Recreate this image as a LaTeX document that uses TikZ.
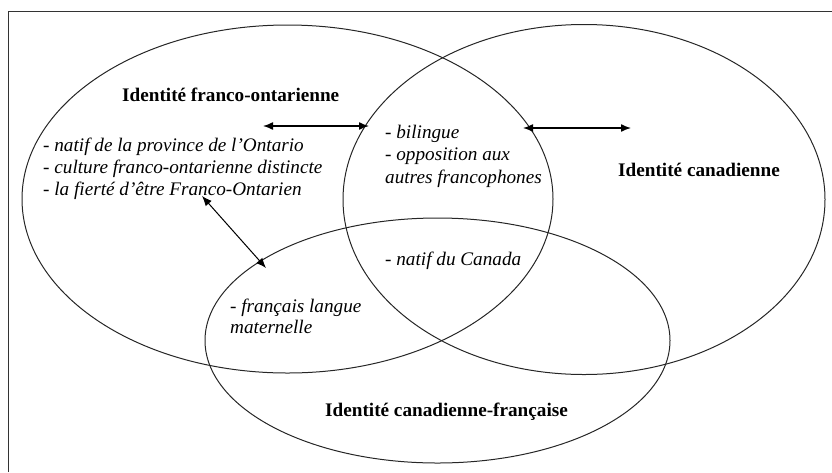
\documentclass[tikz,border=0pt]{standalone}
\usepackage{fontspec}
\setmainfont{Liberation Serif}
\usetikzlibrary{arrows.meta}
\begin{document}
\begin{tikzpicture}[x=1pt,y=-1pt,
  venn/.style={draw=black!85, line width=1pt},
  frameline/.style={draw=black!80, line width=1pt},
  title/.style={font=\fontsize{19.2}{22}\selectfont\bfseries, inner sep=0pt, anchor=base west},
  item/.style={font=\fontsize{19.2}{22}\selectfont\itshape, inner sep=0pt, anchor=base west},
  link/.style={line width=1.4pt, {Latex[length=10pt,width=8pt]}-{Latex[length=10pt,width=8pt]}},
  thinlink/.style={line width=1pt, {Latex[length=10pt,width=8pt]}-{Latex[length=10pt,width=8pt]}}
]
\useasboundingbox (0,0) rectangle (832,472);
% frame
\draw[frameline] (8,472) -- (8,11) -- (832,11);
% ellipses
\draw[venn] (287.5,199) ellipse [x radius=265.5pt, y radius=174pt];
\draw[venn] (584,199.5) ellipse [x radius=241pt, y radius=175pt];
\draw[venn] (437.5,340.5) ellipse [x radius=232.5pt, y radius=122.5pt];
% titles
\node[title] (tfo) at (122,101.7) {Identité franco-ontarienne};
\node[title] (tca) at (618,176.7) {Identité canadienne};
\node[title] (tcf) at (325,416.7) {Identité canadienne-française};
% franco-ontarian items
\node[item] (fo1) at (43,151) {- natif de la province de l’Ontario};
\node[item] (fo2) at (43,173) {- culture franco-ontarienne distincte};
\node[item] (fo3) at (43,195) {- la fierté d’être Franco-Ontarien};
% intersection items
\node[item] (bi1) at (385,138) {- bilingue};
\node[item] (bi2) at (385,160.5) {- opposition aux};
\node[item] (bi3) at (385,183) {autres francophones};
\node[item] (nc) at (385,265) {- natif du Canada};
\node[item] (fl1) at (230,312.5) {- français langue};
\node[item] (fl2) at (230,333.5) {maternelle};
% arrows
\coordinate (a1l) at (263,126);
\coordinate (a1r) at (369,126);
\coordinate (a2l) at (523,128);
\coordinate (a2r) at (631,128);
\coordinate (a3a) at (202,196);
\coordinate (a3b) at (266,268);
\draw[link] (a1l) -- (a1r);
\draw[link] (a2l) -- (a2r);
\draw[thinlink] (a3a) -- (a3b);
\end{tikzpicture}
\end{document}
